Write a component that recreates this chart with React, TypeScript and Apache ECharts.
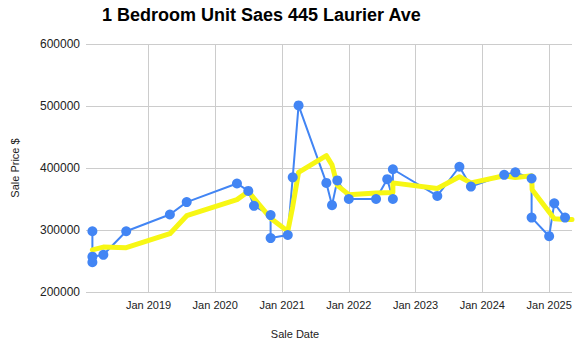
import React, { useEffect, useRef } from "react";
import * as echarts from "echarts";

const chartTitle = "1 Bedroom Unit Saes 445 Laurier Ave";
const xAxisTitle = "Sale Date";
const yAxisTitle = "Sale Price $";

const saleDates = [
  "2018-02-28", "2018-02-28", "2018-02-28", "2018-04-29", "2018-09-01",
  "2019-04-28", "2019-07-29", "2020-04-29", "2020-06-30", "2020-07-31",
  "2020-10-30", "2020-10-30", "2021-02-01", "2021-02-28", "2021-04-01",
  "2021-08-31", "2021-10-01", "2021-10-30", "2022-01-01", "2022-05-30",
  "2022-07-30", "2022-08-30", "2022-08-30", "2023-04-30", "2023-08-29",
  "2023-10-31", "2024-04-30", "2024-06-30", "2024-09-27", "2024-09-27",
  "2025-01-01", "2025-01-29", "2025-03-29",
];
const salePrices = [
  298000, 248000, 257000, 260000, 298000,
  325000, 345000, 375000, 363000, 339000,
  324000, 287000, 292000, 385000, 501000,
  376000, 340000, 380000, 350000, 350000,
  382000, 350000, 398000, 355000, 402000,
  370000, 389000, 393000, 383000, 320000,
  290000, 343000, 320000,
];

const trendDates = [
  "2018-02-28", "2018-04-29", "2018-09-01", "2019-04-28", "2019-07-29",
  "2020-04-29", "2020-06-30", "2020-10-30", "2021-02-01", "2021-02-28",
  "2021-04-01", "2021-08-31", "2021-10-01", "2021-10-30", "2022-01-01",
  "2022-05-30", "2022-08-30", "2022-08-30", "2023-04-30", "2023-08-29",
  "2023-10-31", "2024-04-30", "2024-06-30", "2024-09-27", "2024-09-30",
  "2025-01-29", "2025-03-29", "2025-05-06",
];
const trendPrices = [
  268000, 272500, 271500, 294000, 323000,
  349000, 362000, 319000, 298000, 338000,
  393000, 420000, 405000, 372000, 357000,
  359500, 360500, 376000, 367000, 386000,
  376000, 387500, 384500, 387500, 365000,
  318000, 317000, 317000,
];

const yearTicks = [
  "2019-01-01", "2020-01-01", "2021-01-01", "2022-01-01",
  "2023-01-01", "2024-01-01", "2025-01-01",
];
const xMin = "2018-01-24";
const xMax = "2025-05-06";
const yTicks = [200000, 300000, 400000, 500000, 600000];

const MONTHS = ["Jan", "Feb", "Mar", "Apr", "May", "Jun", "Jul", "Aug", "Sep", "Oct", "Nov", "Dec"];
const toTs = (s: string) => +new Date(s + "T00:00:00");

const FONT = "Arial, 'Liberation Sans', sans-serif";

export default function App() {
  const ref = useRef<HTMLDivElement>(null);
  useEffect(() => {
    document.body.style.margin = "0";
    if (!ref.current) return;
    const chart = echarts.init(ref.current, null, { renderer: "svg" });
    const saleData = saleDates.map((d, i) => [toTs(d), salePrices[i]]);
    const trendData = trendDates.map((d, i) => [toTs(d), trendPrices[i]]);
    const tickVals = yearTicks.map(toTs);
    chart.setOption({
      animation: false,
      backgroundColor: "#ffffff",
      title: {
        text: chartTitle,
        left: 102,
        top: 6,
        padding: 0,
        textStyle: { fontFamily: FONT, fontSize: 18, fontWeight: "bold", color: "#000000" },
      },
      grid: { left: 86, right: 10, top: 44, bottom: 61 },
      xAxis: {
        type: "value",
        min: toTs(xMin),
        max: toTs(xMax),
        scale: true,
        name: xAxisTitle,
        nameLocation: "middle",
        nameGap: 36,
        nameTextStyle: { fontFamily: FONT, fontSize: 11, color: "#222222", padding: [0, 68, 0, 0] },
        axisLine: { show: false },
        axisTick: { show: false, customValues: tickVals },
        axisLabel: {
          customValues: tickVals,
          fontFamily: FONT,
          fontSize: 11,
          color: "#222222",
          margin: 7,
          formatter: (v: number) => {
            const d = new Date(v);
            return MONTHS[d.getMonth()] + " " + d.getFullYear();
          },
        },
        splitLine: { show: true, lineStyle: { color: "#cccccc", width: 1 } },
      },
      yAxis: {
        type: "value",
        min: yTicks[0],
        max: yTicks[yTicks.length - 1],
        interval: 100000,
        name: yAxisTitle,
        nameLocation: "middle",
        nameGap: 66,
        nameRotate: 90,
        nameTextStyle: { fontFamily: FONT, fontSize: 11, color: "#222222" },
        axisLine: { show: false },
        axisTick: { show: false },
        axisLabel: {
          fontFamily: FONT,
          fontSize: 12,
          color: "#222222",
          margin: 6,
          formatter: (v: number) => String(v),
        },
        splitLine: { show: true, lineStyle: { color: "#cccccc", width: 1 } },
      },
      series: [
        {
          type: "line",
          data: saleData,
          symbol: "none",
          lineStyle: { color: "#4285f4", width: 2 },
          z: 2,
          silent: true,
        },
        {
          type: "line",
          data: trendData,
          symbol: "none",
          lineStyle: { color: "#f7f714", width: 5, join: "round", cap: "round" },
          z: 3,
          silent: true,
        },
        {
          type: "scatter",
          data: saleData,
          symbol: "circle",
          symbolSize: 10,
          itemStyle: { color: "#4285f4", opacity: 1 },
          z: 4,
          silent: true,
        },
      ],
    });
    return () => chart.dispose();
  }, []);
  return <div ref={ref} style={{ width: 582, height: 353 }} />;
}
